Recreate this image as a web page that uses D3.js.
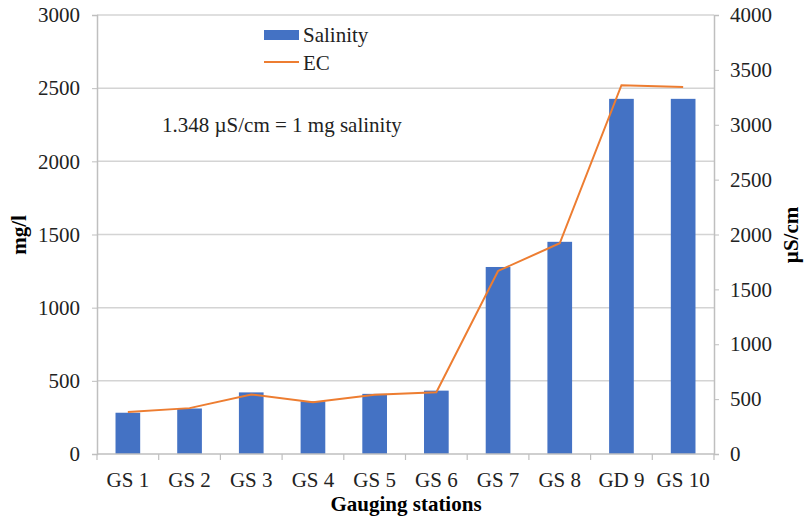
<!DOCTYPE html>
<html>
<head>
<meta charset="utf-8">
<script src="https://cdn.jsdelivr.net/npm/d3@7"></script>
<style>
  html, body { margin: 0; padding: 0; background: #fff; }
  svg { display: block; font-family: "Liberation Serif", "DejaVu Serif", serif; }
</style>
</head>
<body>
<svg id="chart" width="805" height="517"></svg>
<script>
// Gauging stations and measured values
const stations = ["GS 1", "GS 2", "GS 3", "GS 4", "GS 5", "GS 6", "GS 7", "GS 8", "GD 9", "GS 10"];
const salinity = [282, 311, 421, 360, 411, 433, 1278, 1450, 2427, 2427];   // mg/l
const ec = [382, 418, 542, 472, 540, 563, 1668, 1920, 3360, 3343];          // µS/cm
const leftTicks = [0, 500, 1000, 1500, 2000, 2500, 3000];
const rightTicks = [0, 500, 1000, 1500, 2000, 2500, 3000, 3500, 4000];

const svg = d3.select("#chart");
const plotLeft = 97, plotRight = 714, plotTop = 15, plotBottom = 454;
const serif = "Liberation Serif, DejaVu Serif, serif";
const fs = 21;

const x = d3.scaleBand().domain(stations).range([plotLeft, plotRight]).paddingInner(0.6).paddingOuter(0.3);
const xb = d3.scaleBand().domain(stations).range([plotLeft, plotRight]);
const yL = d3.scaleLinear().domain([0, 3000]).range([plotBottom, plotTop]);
const yR = d3.scaleLinear().domain([0, 4000]).range([plotBottom, plotTop]);

const grey = "#bfbfbf";

// horizontal gridlines
svg.append("g").selectAll("line").data(leftTicks.slice(1)).join("line")
  .attr("x1", plotLeft).attr("x2", plotRight)
  .attr("y1", d => yL(d)).attr("y2", d => yL(d))
  .attr("stroke", "#d4d4d4").attr("stroke-width", 1.5);

// bars
svg.append("g").selectAll("rect").data(stations).join("rect")
  .attr("x", d => x(d)).attr("width", x.bandwidth())
  .attr("y", (d, i) => yL(salinity[i]))
  .attr("height", (d, i) => plotBottom - yL(salinity[i]))
  .attr("fill", "#4472C4");

// EC line
const line = d3.line()
  .x((d, i) => xb(stations[i]) + xb.bandwidth() / 2)
  .y(d => yR(d));
svg.append("path").datum(ec).attr("d", line)
  .attr("fill", "none").attr("stroke", "#ED7D31").attr("stroke-width", 2);

// left axis
const axL = svg.append("g").attr("transform", `translate(${plotLeft},0)`)
  .call(d3.axisLeft(yL).tickValues(leftTicks).tickFormat(d3.format("d")).tickSize(5).tickPadding(12));
axL.attr("font-family", serif).attr("font-size", fs);
axL.select(".domain").attr("stroke", grey).attr("stroke-width", 1.5);
axL.selectAll(".tick line").attr("stroke", grey);
axL.selectAll("text").attr("fill", "#222");

// right axis
const axR = svg.append("g").attr("transform", `translate(${plotRight},0)`)
  .call(d3.axisRight(yR).tickValues(rightTicks).tickFormat(d3.format("d")).tickSize(5).tickPadding(11));
axR.attr("font-family", serif).attr("font-size", fs);
axR.select(".domain").attr("stroke", grey).attr("stroke-width", 1.5);
axR.selectAll(".tick line").attr("stroke", grey);
axR.selectAll("text").attr("fill", "#222");

// bottom axis with category separators
const axB = svg.append("g").attr("transform", `translate(0,${plotBottom})`)
  .attr("font-family", serif).attr("font-size", fs);
axB.append("line").attr("x1", plotLeft).attr("x2", plotRight).attr("y1", 0).attr("y2", 0)
  .attr("stroke", grey).attr("stroke-width", 1.5);
const seps = stations.map(s => xb(s)).concat([plotRight]);
axB.selectAll("line.sep").data(seps).join("line").attr("class", "sep")
  .attr("x1", d => d).attr("x2", d => d).attr("y1", 0).attr("y2", 6)
  .attr("stroke", grey).attr("stroke-width", 1.2);
axB.selectAll("text").data(stations).join("text")
  .attr("x", d => xb(d) + xb.bandwidth() / 2).attr("y", 33)
  .attr("text-anchor", "middle").attr("fill", "#222")
  .text(d => d);

// axis titles
svg.append("text").attr("transform", "translate(26,235) rotate(-90)")
  .attr("text-anchor", "middle").attr("font-size", fs).attr("font-weight", "bold").text("mg/l");
svg.append("text").attr("transform", "translate(798,235) rotate(-90)")
  .attr("text-anchor", "middle").attr("font-size", fs).attr("font-weight", "bold").text("µS/cm");
svg.append("text").attr("x", 406).attr("y", 511)
  .attr("text-anchor", "middle").attr("font-size", fs).attr("font-weight", "bold").text("Gauging stations");

// legend
const lg = svg.append("g").attr("font-size", fs).attr("fill", "#222");
lg.append("rect").attr("x", 264).attr("y", 30).attr("width", 35).attr("height", 10).attr("fill", "#4472C4");
lg.append("text").attr("x", 303).attr("y", 42).text("Salinity");
lg.append("line").attr("x1", 264).attr("x2", 299).attr("y1", 62).attr("y2", 62)
  .attr("stroke", "#ED7D31").attr("stroke-width", 2);
lg.append("text").attr("x", 303).attr("y", 70).text("EC");

// conversion note
svg.append("text").attr("x", 162).attr("y", 132).attr("font-size", fs).attr("fill", "#222")
  .text("1.348 µS/cm = 1 mg salinity");
</script>
</body>
</html>
